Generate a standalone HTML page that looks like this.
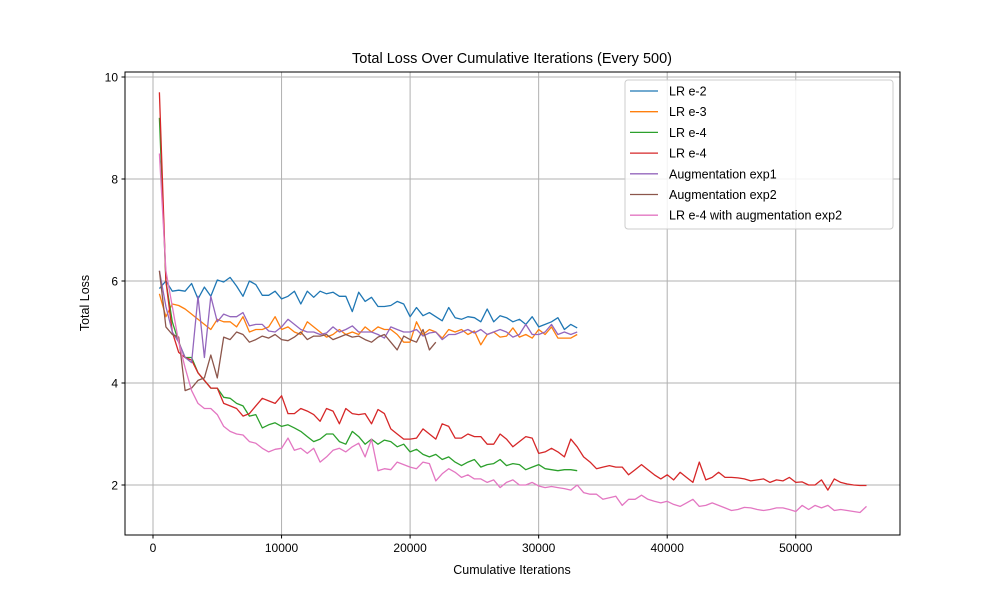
<!DOCTYPE html>
<html><head><meta charset="utf-8"><style>
body{margin:0;background:#fff;}
svg text{font-family:"Liberation Sans","DejaVu Sans",sans-serif;fill:#000;}
</style></head><body>
<svg id="chart" width="1000" height="600"></svg>
<script>
const lrE2=[5.85,6.0,5.8,5.82,5.8,5.95,5.65,5.88,5.7,6.02,5.98,6.07,5.9,5.7,6.0,5.93,5.72,5.72,5.8,5.65,5.7,5.8,5.55,5.8,5.68,5.8,5.75,5.78,5.7,5.7,5.4,5.78,5.6,5.68,5.5,5.5,5.52,5.6,5.55,5.3,5.48,5.32,5.38,5.3,5.22,5.48,5.28,5.25,5.3,5.28,5.2,5.45,5.2,5.32,5.28,5.2,5.25,5.15,5.3,5.1,5.15,5.2,5.28,5.05,5.15,5.08];
const lrE3=[5.75,5.3,5.55,5.52,5.45,5.35,5.25,5.15,5.05,5.25,5.2,5.2,5.1,5.3,5.0,5.05,5.05,5.1,5.3,5.05,5.1,5.0,4.95,5.2,5.1,5.0,4.9,4.95,5.05,4.95,5.0,4.95,5.1,5.0,5.1,5.05,5.05,4.95,4.8,4.8,5.2,4.95,5.05,5.0,4.88,5.05,5.0,5.05,4.95,5.02,4.75,4.95,5.0,4.9,4.92,5.08,4.9,4.95,4.88,5.05,4.95,5.1,4.88,4.88,4.88,4.95];
const lrE4a=[9.2,6.0,5.2,4.8,4.5,4.5,4.2,4.05,3.9,3.9,3.72,3.7,3.6,3.55,3.35,3.38,3.12,3.18,3.22,3.15,3.18,3.12,3.05,2.95,2.85,2.9,3.0,3.0,2.85,2.8,3.05,2.95,2.8,2.9,2.8,2.88,2.85,2.75,2.8,2.65,2.7,2.6,2.55,2.6,2.5,2.55,2.45,2.38,2.45,2.5,2.35,2.4,2.42,2.5,2.38,2.42,2.4,2.3,2.35,2.4,2.32,2.3,2.28,2.3,2.3,2.28];
const lrE4b=[9.7,6.0,5.0,4.6,4.5,4.45,4.2,4.05,3.9,3.9,3.6,3.55,3.5,3.35,3.4,3.55,3.7,3.65,3.6,3.75,3.4,3.4,3.5,3.45,3.38,3.25,3.5,3.45,3.2,3.5,3.4,3.38,3.4,3.2,3.48,3.4,3.1,3.0,2.9,2.9,2.92,3.1,3.0,2.9,3.2,3.15,2.92,2.92,3.0,2.95,2.95,2.8,2.8,3.0,2.9,2.75,2.85,2.95,2.92,2.62,2.65,2.72,2.65,2.55,2.9,2.75,2.55,2.45,2.32,2.35,2.38,2.35,2.35,2.2,2.3,2.4,2.3,2.2,2.12,2.2,2.1,2.25,2.15,2.05,2.45,2.1,2.15,2.25,2.15,2.15,2.14,2.12,2.08,2.1,2.12,2.05,2.1,2.08,2.15,2.05,2.06,2.0,2.0,2.1,1.9,2.12,2.05,2.02,2.0,1.99,1.99];
const augExp1=[6.2,5.5,5.0,4.8,4.5,4.4,5.7,4.5,5.7,5.2,5.35,5.3,5.3,5.38,5.12,5.15,5.15,5.02,5.0,5.1,5.25,5.15,5.05,5.0,5.0,4.95,4.98,5.1,5.0,5.05,5.12,5.0,5.0,5.0,4.95,4.88,5.1,5.05,5.0,5.0,5.05,4.92,4.98,5.0,4.85,4.95,4.95,5.0,5.05,4.98,5.05,4.95,5.0,5.05,5.0,4.9,4.95,5.15,4.95,4.95,5.0,5.15,4.95,5.0,4.95,5.0];
const augExp2=[6.2,5.1,4.95,4.9,3.85,3.9,4.05,4.1,4.55,4.1,4.9,4.85,5.0,4.95,4.8,4.85,4.92,4.88,4.95,4.85,4.83,4.9,5.0,4.85,4.92,4.92,4.95,4.85,4.9,4.95,4.9,4.92,4.85,4.8,4.9,4.95,4.8,4.65,4.92,4.85,4.8,5.05,4.65,4.8];
const lrE4Aug=[8.5,6.2,5.5,4.8,4.3,3.85,3.6,3.5,3.5,3.38,3.15,3.05,3.0,2.98,2.85,2.82,2.72,2.65,2.7,2.72,2.92,2.68,2.72,2.62,2.72,2.45,2.55,2.68,2.72,2.65,2.75,2.82,2.55,2.9,2.28,2.32,2.3,2.45,2.4,2.35,2.32,2.45,2.42,2.08,2.22,2.32,2.25,2.15,2.2,2.12,2.12,2.05,2.1,1.95,2.05,2.1,2.0,2.0,2.05,1.98,1.95,1.97,1.95,1.93,1.9,2.0,1.85,1.82,1.82,1.72,1.75,1.78,1.6,1.72,1.72,1.8,1.72,1.68,1.65,1.68,1.62,1.58,1.65,1.72,1.58,1.6,1.65,1.6,1.55,1.5,1.52,1.56,1.55,1.52,1.5,1.52,1.55,1.55,1.52,1.48,1.6,1.52,1.6,1.55,1.6,1.5,1.52,1.5,1.48,1.46,1.58];
const xTicks=[0,10000,20000,30000,40000,50000];
const yTicks=[2,4,6,8,10];
const seriesNames=["LR e-2","LR e-3","LR e-4","LR e-4","Augmentation exp1","Augmentation exp2","LR e-4 with augmentation exp2"];
const seriesData=[lrE2,lrE3,lrE4a,lrE4b,augExp1,augExp2,lrE4Aug];
const colors=["#1f77b4","#ff7f0e","#2ca02c","#d62728","#9467bd","#8c564b","#e377c2"];
const STEP=500;

const L=125,T=72,R=900,B=535;
const xs=v=>153+(v/10000)*128.55;
const ys=v=>485-(v-2)*51;
const svg=document.getElementById('chart');
const NS='http://www.w3.org/2000/svg';
function mk(tag,attrs,parent){const e=document.createElementNS(NS,tag);for(const k in attrs)e.setAttribute(k,attrs[k]);(parent||svg).appendChild(e);return e;}

xTicks.forEach(t=>{
  const g=mk('line',{x1:xs(t),x2:xs(t),y1:T,y2:B,stroke:'#b0b0b0','stroke-width':1});
  
  
  mk('line',{x1:xs(t),x2:xs(t),y1:B,y2:B+3.5,stroke:'#000'});
  const tx=mk('text',{x:xs(t),y:B+17,'text-anchor':'middle','font-size':12});
  tx.textContent=t;
  
  
});
yTicks.forEach(t=>{
  const g=mk('line',{x1:L,x2:R,y1:ys(t),y2:ys(t),stroke:'#b0b0b0','stroke-width':1});
  
  
  mk('line',{x1:L-3.5,x2:L,y1:ys(t),y2:ys(t),stroke:'#000'});
  const tx=mk('text',{x:L-7,y:ys(t)+4.5,'text-anchor':'end','font-size':12});
  tx.textContent=t;
  
  
});

seriesData.forEach((arr,i)=>{
  const pts=arr.map((v,j)=>xs((j+1)*STEP).toFixed(1)+','+ys(v).toFixed(1)).join(' ');
  const p=mk('polyline',{points:pts,fill:'none',stroke:colors[i],'stroke-width':1.3,'stroke-linejoin':'round'});
  
  
});

const fr=mk('rect',{x:L,y:T,width:R-L,height:B-T,fill:'none',stroke:'#000','stroke-width':1});



const ti=mk('text',{x:512,y:63,'text-anchor':'middle','font-size':14.5});
ti.textContent='Total Loss Over Cumulative Iterations (Every 500)';


const xl=mk('text',{x:512,y:574,'text-anchor':'middle','font-size':12.5});
xl.textContent='Cumulative Iterations';


const yl=mk('text',{x:0,y:0,'text-anchor':'middle','font-size':12.5,transform:'translate(89,303) rotate(-90)'});
yl.textContent='Total Loss';



const lg=mk('g',{});


mk('rect',{x:625,y:80,width:268,height:149,rx:3,fill:'#fff','fill-opacity':0.85,stroke:'#ccc'},lg);
seriesNames.forEach((n,i)=>{
  const y=91+i*20.7;
  const ln=mk('line',{x1:630,x2:658,y1:y,y2:y,stroke:colors[i],'stroke-width':1.3},lg);
  
  
  const t=mk('text',{x:669,y:y+4.5,'font-size':12.5},lg);
  t.textContent=n;
  
  
});
</script>
</body></html>
